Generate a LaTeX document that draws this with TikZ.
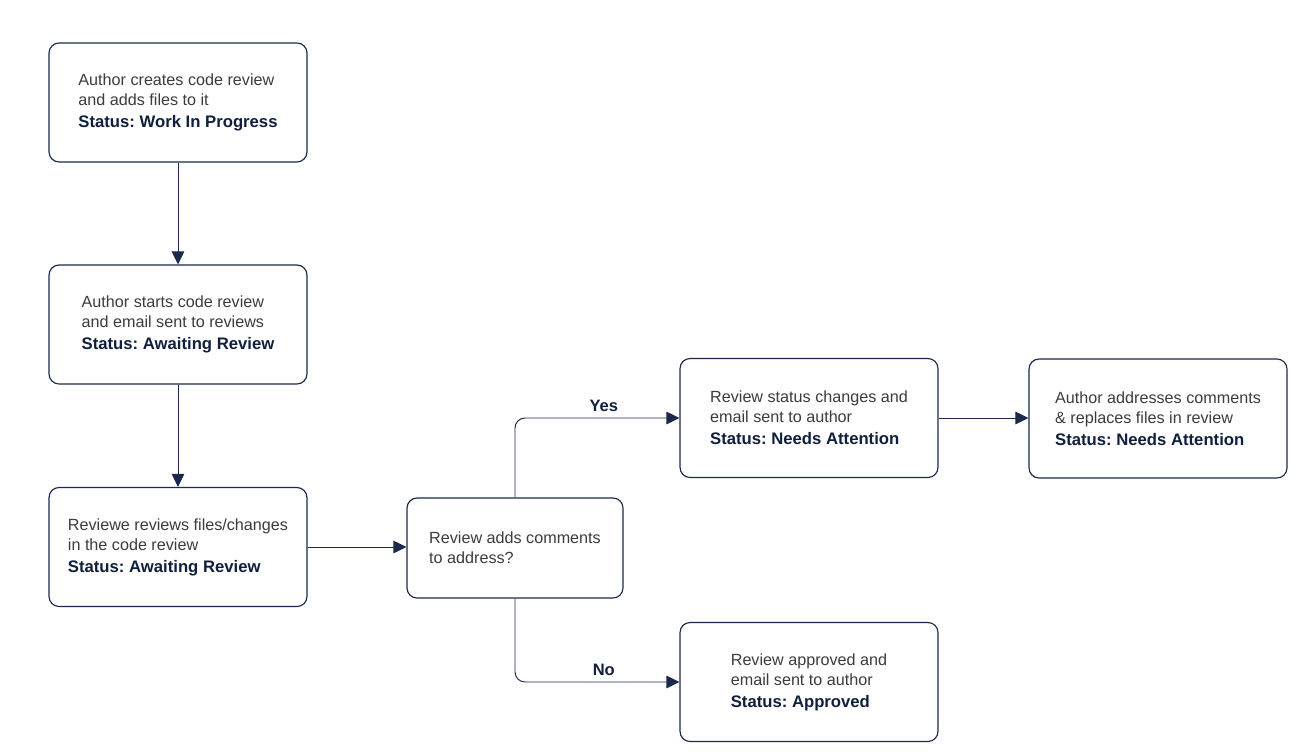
\documentclass[tikz,border=0pt]{standalone}
\usepackage{fontspec}
\setmainfont{Liberation Sans}
\usetikzlibrary{arrows.meta, positioning}

\definecolor{navy}{HTML}{1B2A4A}
\definecolor{statusblue}{HTML}{0F1F3D}
\definecolor{textgray}{HTML}{3C3C3C}

\frenchspacing
\newcommand{\statusline}[1]{\\[1pt]{\fontsize{9.5}{11.4}\selectfont\bfseries\color{statusblue}#1}}

\begin{document}
\begin{tikzpicture}[x=0.02cm, y=-0.02cm, >={Triangle[length=0.26cm, width=0.25cm]},
    stepbox/.style={draw=navy, line width=0.65pt, rounded corners=0.2cm, fill=white,
      minimum width=5.16cm, minimum height=2.38cm, align=left, text=textgray,
      font=\fontsize{9.2}{11.4}\selectfont},
    askbox/.style={stepbox, minimum width=4.32cm, minimum height=2cm},
    flow/.style={draw=navy, line width=0.55pt, ->, rounded corners=0.2cm},
    answer/.style={text=statusblue, font=\fontsize{9.4}{11}\selectfont\bfseries}]
  \useasboundingbox (0,0) rectangle (1310,753);

  % left column
  \node[stepbox] (create) at (178,102.5) {Author creates code review\\and adds files to it\statusline{Status: Work In Progress}};
  \node[stepbox] (start) at (178,324.5) {Author starts code review\\and email sent to reviews\statusline{Status: Awaiting Review}};
  \node[stepbox] (reviewer) at (178,547) {Reviewe reviews files/changes\\in the code review\statusline{Status: Awaiting Review}};

  % decision and outcomes
  \node[askbox] (ask) at (515,548) {Review adds comments\\to address?};
  \node[stepbox] (attention) at (809,418) {Review status changes and\\email sent to author\statusline{Status: Needs Attention}};
  \node[stepbox] (fixes) at (1158,418.5) {Author addresses comments\\\& replaces files in review\statusline{Status: Needs Attention}};
  \node[stepbox] (approved) at (809,682) {Review approved and\\email sent to author\statusline{Status: Approved}};

  \draw[flow] (create) -- (start);
  \draw[flow] (start) -- (reviewer);
  \draw[flow] (reviewer.east) -- (reviewer.east -| ask.west);
  \draw[flow] (ask.north) |- (attention.west) node[answer, pos=0.77, above=0pt] {Yes};
  \draw[flow] (ask.south) |- (approved.west) node[answer, pos=0.77, above=0pt] {No};
  \draw[flow] (attention.east) -- (attention.east -| fixes.west);
\end{tikzpicture}
\end{document}
